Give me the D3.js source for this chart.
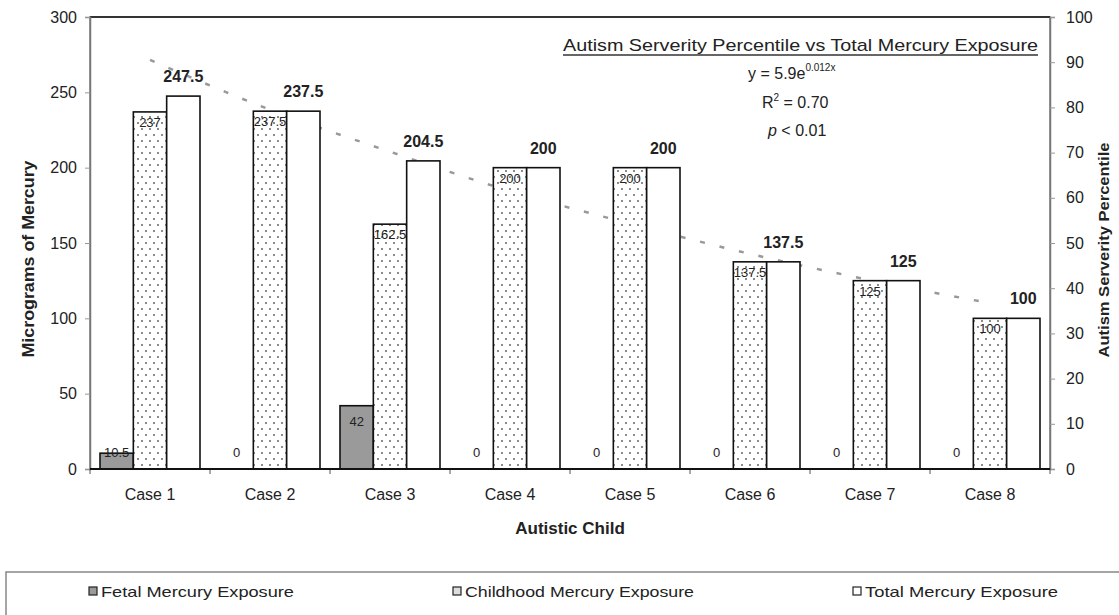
<!DOCTYPE html>
<html>
<head>
<meta charset="utf-8">
<script src="https://cdn.jsdelivr.net/npm/d3@7"></script>
<style>
  body { margin: 0; background: #fff; }
  text { font-family: "Liberation Sans", Arial, sans-serif; fill: #222; }
</style>
</head>
<body>
<div id="chart"></div>
<script>
// Data
const cases = ["Case 1", "Case 2", "Case 3", "Case 4", "Case 5", "Case 6", "Case 7", "Case 8"];
const fetal = [10.5, 0, 42, 0, 0, 0, 0, 0];
const childhood = [237, 237.5, 162.5, 200, 200, 137.5, 125, 100];
const total = [247.5, 237.5, 204.5, 200, 200, 137.5, 125, 100];
const fetalLabels = ["10.5", "0", "42", "0", "0", "0", "0", "0"];
const childLabels = ["237", "237.5", "162.5", "200", "200", "137.5", "125", "100"];
const totalLabels = ["247.5", "237.5", "204.5", "200", "200", "137.5", "125", "100"];
// trendline, right axis (percentile)
const trend = [90.5, 79.5, 70.2, 61.5, 54.3, 47.6, 41.8, 36.7];
const leftTicks = [0, 50, 100, 150, 200, 250, 300];
const rightTicks = [0, 10, 20, 30, 40, 50, 60, 70, 80, 90, 100];
const seriesNames = ["Fetal Mercury Exposure", "Childhood Mercury Exposure", "Total Mercury Exposure"];

// Dimensions
const width = 1119;
const height = 615;
const plot = { left: 90, right: 1050, top: 17, bottom: 469 };

const svg = d3.select("#chart").append("svg")
  .attr("width", width)
  .attr("height", height);

// dotted fill for childhood bars
const defs = svg.append("defs");
const pat = defs.append("pattern")
  .attr("id", "dots")
  .attr("patternUnits", "userSpaceOnUse")
  .attr("width", 8).attr("height", 12);
pat.append("rect").attr("width", 8).attr("height", 12).attr("fill", "#fff");
pat.append("circle").attr("cx", 2).attr("cy", 3).attr("r", 0.9).attr("fill", "#555");
pat.append("circle").attr("cx", 6).attr("cy", 9).attr("r", 0.9).attr("fill", "#555");

const fills = ["#9a9a9a", "url(#dots)", "#fff"];

// Scales
const x = d3.scaleBand()
  .domain(cases)
  .range([plot.left, plot.right])
  .paddingInner(1 / 6)
  .paddingOuter(1 / 12);
const xSub = d3.scaleBand()
  .domain([0, 1, 2])
  .range([0, x.bandwidth()]);
const y = d3.scaleLinear().domain([0, 300]).range([plot.bottom, plot.top]);
const yRight = d3.scaleLinear().domain([0, 100]).range([plot.bottom, plot.top]);

// Plot area frame
svg.append("rect")
  .attr("x", plot.left).attr("y", plot.top)
  .attr("width", plot.right - plot.left)
  .attr("height", plot.bottom - plot.top)
  .attr("fill", "none")
  .attr("stroke", "#777")
  .attr("stroke-width", 1.5);
svg.append("line")
  .attr("x1", plot.left).attr("x2", plot.right)
  .attr("y1", plot.top).attr("y2", plot.top)
  .attr("stroke", "#333").attr("stroke-width", 2);

// Axes
const leftAxis = svg.append("g")
  .attr("transform", `translate(${plot.left},0)`)
  .call(d3.axisLeft(y).tickValues(leftTicks).tickSize(5).tickPadding(8));
const rightAxis = svg.append("g")
  .attr("transform", `translate(${plot.right},0)`)
  .call(d3.axisRight(yRight).tickValues(rightTicks).tickSize(5).tickPadding(11));
[leftAxis, rightAxis].forEach((g) => {
  g.select(".domain").attr("stroke", "#777").attr("stroke-width", 1.5);
  g.selectAll(".tick line").attr("stroke", "#999");
  g.selectAll(".tick text")
    .style("font-family", "Liberation Sans, Arial, sans-serif")
    .style("font-size", "16px")
    .attr("fill", "#222");
});

const bottomAxis = svg.append("g")
  .attr("transform", `translate(0,${plot.bottom})`)
  .call(d3.axisBottom(x).tickSize(0).tickPadding(20));
bottomAxis.select(".domain").remove();
bottomAxis.selectAll(".tick text")
  .style("font-family", "Liberation Sans, Arial, sans-serif")
  .style("font-size", "16px")
  .attr("fill", "#222");
// category boundary ticks
svg.append("g").selectAll("line")
  .data(d3.range(cases.length + 1))
  .join("line")
  .attr("x1", (i) => plot.left + i * x.step())
  .attr("x2", (i) => plot.left + i * x.step())
  .attr("y1", plot.bottom).attr("y2", plot.bottom + 5)
  .attr("stroke", "#555");

// Trendline (dotted)
const trendLine = d3.line()
  .x((d, i) => x(cases[i]) + x.bandwidth() / 2)
  .y((d) => yRight(d))
  .curve(d3.curveMonotoneX);
svg.append("path")
  .datum(trend)
  .attr("d", trendLine)
  .attr("fill", "none")
  .attr("stroke", "#999")
  .attr("stroke-width", 2.5)
  .attr("stroke-dasharray", "5,15");

// Bars
const seriesData = [fetal, childhood, total];
const barG = svg.append("g");
seriesData.forEach((vals, s) => {
  barG.selectAll(`.bar-${s}`)
    .data(vals.map((v, i) => ({ v, i })).filter((d) => d.v > 0))
    .join("rect")
    .attr("class", `bar-${s}`)
    .attr("x", (d) => x(cases[d.i]) + xSub(s))
    .attr("y", (d) => y(d.v))
    .attr("width", xSub.bandwidth())
    .attr("height", (d) => y(0) - y(d.v))
    .attr("fill", fills[s])
    .attr("stroke", "#111")
    .attr("stroke-width", 1.6);
});

// baseline
svg.append("line")
  .attr("x1", plot.left).attr("x2", plot.right)
  .attr("y1", plot.bottom).attr("y2", plot.bottom)
  .attr("stroke", "#111").attr("stroke-width", 2);

// Labels
const labG = svg.append("g").attr("text-anchor", "middle");
labG.selectAll(".fetal-lab")
  .data(fetal)
  .join("text")
  .attr("x", (d, i) => x(cases[i]) + xSub(0) + xSub.bandwidth() / 2)
  .attr("y", (d) => Math.min(y(d) + 15, y(0) - 17) + 5)
  .style("font-size", "13px")
  .text((d, i) => fetalLabels[i]);
labG.selectAll(".child-lab")
  .data(childhood)
  .join("text")
  .attr("x", (d, i) => x(cases[i]) + xSub(1) + xSub.bandwidth() / 2)
  .attr("y", (d) => y(d) + 15)
  .style("font-size", "13px")
  .text((d, i) => childLabels[i]);
labG.selectAll(".total-lab")
  .data(total)
  .join("text")
  .attr("x", (d, i) => x(cases[i]) + xSub(2) + xSub.bandwidth() / 2)
  .attr("y", (d) => y(d) - 14)
  .style("font-size", "16px")
  .style("font-weight", "bold")
  .text((d, i) => totalLabels[i]);

// Axis titles
svg.append("text")
  .attr("transform", `translate(34,${(plot.top + plot.bottom) / 2 + 16}) rotate(-90)`)
  .attr("text-anchor", "middle")
  .style("font-size", "16px")
  .style("font-weight", "bold")
  .attr("textLength", 197)
  .attr("lengthAdjust", "spacingAndGlyphs")
  .text("Micrograms of Mercury");
svg.append("text")
  .attr("transform", `translate(1109,250) rotate(-90)`)
  .attr("text-anchor", "middle")
  .style("font-size", "15px")
  .style("font-weight", "bold")
  .attr("textLength", 215)
  .attr("lengthAdjust", "spacingAndGlyphs")
  .text("Autism Serverity Percentile");
svg.append("text")
  .attr("x", (plot.left + plot.right) / 2)
  .attr("y", 534)
  .attr("text-anchor", "middle")
  .style("font-size", "17px")
  .style("font-weight", "bold")
  .text("Autistic Child");

// Annotation
svg.append("text")
  .attr("x", 563).attr("y", 51)
  .style("font-size", "17px")
  .attr("textLength", 475)
  .attr("lengthAdjust", "spacingAndGlyphs")
  .text("Autism Serverity Percentile vs Total Mercury Exposure");
svg.append("line")
  .attr("x1", 563).attr("x2", 1038)
  .attr("y1", 55).attr("y2", 55)
  .attr("stroke", "#333").attr("stroke-width", 1.5);
const eq = svg.append("text").attr("x", 748).attr("y", 79).style("font-size", "16px");
eq.append("tspan").text("y = 5.9e");
eq.append("tspan").attr("dy", -8).style("font-size", "10px").text("0.012x");
const r2 = svg.append("text").attr("x", 762).attr("y", 108).style("font-size", "16px");
r2.append("tspan").text("R");
r2.append("tspan").attr("dy", -7).style("font-size", "10px").text("2");
r2.append("tspan").attr("dy", 7).text(" = 0.70");
const pv = svg.append("text").attr("x", 768).attr("y", 136).style("font-size", "16px");
pv.append("tspan").style("font-style", "italic").text("p");
pv.append("tspan").text(" < 0.01");

// Legend
const legend = svg.append("g");
legend.append("rect")
  .attr("x", 6).attr("y", 572)
  .attr("width", 1120).attr("height", 60)
  .attr("fill", "#fff")
  .attr("stroke", "#888")
  .attr("stroke-width", 1.5);
const legX = [89, 453, 853];
const legLen = [193, 229, 193];
seriesNames.forEach((name, s) => {
  legend.append("rect")
    .attr("x", legX[s]).attr("y", 587)
    .attr("width", 8).attr("height", 8)
    .attr("fill", s === 1 ? "#ddd" : fills[s])
    .attr("stroke", "#222").attr("stroke-width", 1.2);
  legend.append("text")
    .attr("x", legX[s] + 12).attr("y", 597)
    .style("font-size", "15px")
    .attr("textLength", legLen[s])
    .attr("lengthAdjust", "spacingAndGlyphs")
    .text(name);
});
</script>
</body>
</html>
